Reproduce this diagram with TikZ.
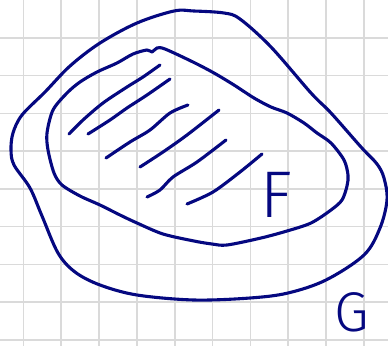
\documentclass[tikz,border=0pt]{standalone}
\usepackage{fontspec}
\IfFontExistsTF{Fira Sans Light}{\newfontfamily\handfont{Fira Sans Light}}{%
 \IfFontExistsTF{Lato Light}{\newfontfamily\handfont{Lato Light}}{%
  \IfFontExistsTF{Open Sans Light}{\newfontfamily\handfont{Open Sans Light}}{%
   \newfontfamily\handfont{Fira Sans}}}}
\definecolor{ink}{RGB}{5,8,128}
\definecolor{gridc}{RGB}{218,218,218}
\tikzset{
  ink/.style={draw=ink, line width=3.1pt, line cap=round, line join=round},
  gridline/.style={draw=gridc, line width=1.6pt},
  letter/.style={text=ink, font=\handfont\fontsize{66}{66}\selectfont, inner sep=0pt, text depth=0pt, anchor=base west}
}
\begin{document}
\begin{tikzpicture}[x=1pt,y=-1pt]
\fill[white] (0,0) rectangle (388,346);
\useasboundingbox (0,0) rectangle (388,346);
% grid
\foreach \k in {0,...,9} {
  \draw[gridline] ({23.3+37.85*\k},0) -- ({23.3+37.85*\k},346);
}
\foreach \k in {0,...,8} {
  \draw[gridline] (0,{37.8+37.75*\k}) -- (388,{37.8+37.75*\k});
}
% outer set G
\draw[ink] plot[smooth cycle, tension=0.55] coordinates {
 (174,11) (194,11) (224,13) (240,19) (271,47) (311,93) (331,113) (361,147)
 (377,164) (384,178) (387,200) (380,228) (364,255) (326,280) (288,293) (250,298)
 (194,300) (137,295) (100,285) (75,272) (58,253) (42,216) (30,188) (14,165)
 (11,150) (13,133) (22,115) (45,92) (70,66) (100,43) (137,23)};
% inner set F
\draw[ink] plot[smooth cycle, tension=0.5] coordinates {
 (133,54) (147,50) (152,52) (157,48) (165,49) (193,62) (214,73) (234,85)
 (254,98) (271,107) (287,113) (304,123) (317,133) (331,143) (344,160) (348,175)
 (347,186) (342,200) (331,210) (311,223) (287,231) (261,238) (227,245) (212,244)
 (194,241) (163,234) (137,223) (120,215) (100,205) (80,196) (62,185) (54,173)
 (48,150) (47,133) (53,110) (67,93) (80,82) (97,72) (117,63)};
% hatching
\draw[ink] plot[smooth, tension=0.5] coordinates {(69,134) (83,120) (103,103) (127,87) (143,77) (160,65)};
\draw[ink] plot[smooth, tension=0.5] coordinates {(88,134) (110,120) (127,108) (147,95) (170,79)};
\draw[ink] plot[smooth, tension=0.5] coordinates {(106,158) (130,142) (150,130) (170,113) (188,105)};
\draw[ink] plot[smooth, tension=0.5] coordinates {(140,167) (163,152) (187,135) (219,110)};
\draw[ink] plot[smooth, tension=0.5] coordinates {(147,197) (160,190) (173,177) (197,162) (226,140)};
\draw[ink] plot[smooth, tension=0.5] coordinates {(187,204) (213,192) (240,172) (262,154)};
% labels
\node[letter] (F) at (260,217) {F};
\node[letter, font=\handfont\fontsize{56}{56}\selectfont] (G) at (334,331) {G};
\end{tikzpicture}
\end{document}
